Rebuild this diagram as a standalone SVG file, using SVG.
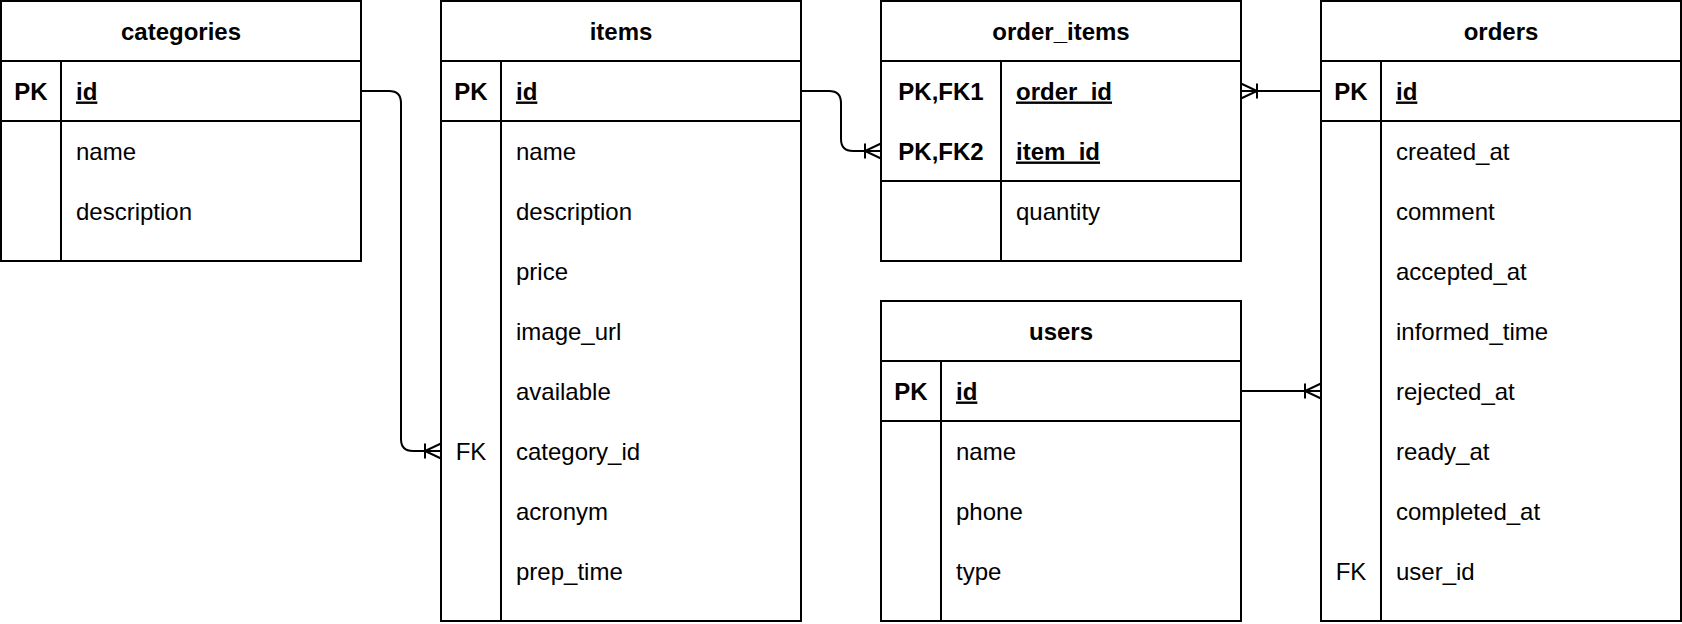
<svg xmlns="http://www.w3.org/2000/svg" width="1682" height="624" viewBox="0 0 1682 624">
<style>
text{font-family:"Liberation Sans",Arial,sans-serif;font-size:24px;fill:#000}
.h{font-weight:bold;text-anchor:middle}
.k{font-weight:bold;text-anchor:middle}
.f{text-anchor:middle}
.u{font-weight:bold;text-decoration:underline}
.box{fill:#fff;stroke:#000;stroke-width:2}
.ln{fill:none;stroke:#000;stroke-width:2}
.conn{fill:none;stroke:#000;stroke-width:2}
</style>
<defs>
<marker id="crow" markerUnits="userSpaceOnUse" viewBox="-20 -10 22 20" markerWidth="22" markerHeight="20" refX="0" refY="0" orient="auto" overflow="visible">
<path d="M0,-7.5 L-16,0 L0,7.5 M-16,-7.5 V7.5" fill="none" stroke="#000" stroke-width="2"/>
</marker>
</defs>
<rect x="0" y="0" width="1682" height="624" fill="#fff"/>

<g id="categories">
<rect class="box" x="1" y="1" width="360" height="260"/>
<path class="ln" d="M1,61 H361 M1,121 H361 M61,61 V261"/>
<text class="h" x="181" y="39.5">categories</text>
<text class="k" x="31" y="99.5">PK</text>
<text class="u" x="76" y="99.5">id</text>
<text x="76" y="159.5">name</text>
<text x="76" y="219.5">description</text>
</g>

<g id="items">
<rect class="box" x="441" y="1" width="360" height="620"/>
<path class="ln" d="M441,61 H801 M441,121 H801 M501,61 V621"/>
<text class="h" x="621" y="39.5">items</text>
<text class="k" x="471" y="99.5">PK</text>
<text class="u" x="516" y="99.5">id</text>
<text x="516" y="159.5">name</text>
<text x="516" y="219.5">description</text>
<text x="516" y="279.5">price</text>
<text x="516" y="339.5">image_url</text>
<text x="516" y="399.5">available</text>
<text class="f" x="471" y="459.5">FK</text>
<text x="516" y="459.5">category_id</text>
<text x="516" y="519.5">acronym</text>
<text x="516" y="579.5">prep_time</text>
</g>

<g id="order_items">
<rect class="box" x="881" y="1" width="360" height="260"/>
<path class="ln" d="M881,61 H1241 M881,181 H1241 M1001,61 V261"/>
<text class="h" x="1061" y="39.5">order_items</text>
<text class="k" x="941" y="99.5">PK,FK1</text>
<text class="u" x="1016" y="99.5">order_id</text>
<text class="k" x="941" y="159.5">PK,FK2</text>
<text class="u" x="1016" y="159.5">item_id</text>
<text x="1016" y="219.5">quantity</text>
</g>

<g id="users">
<rect class="box" x="881" y="301" width="360" height="320"/>
<path class="ln" d="M881,361 H1241 M881,421 H1241 M941,361 V621"/>
<text class="h" x="1061" y="339.5">users</text>
<text class="k" x="911" y="399.5">PK</text>
<text class="u" x="956" y="399.5">id</text>
<text x="956" y="459.5">name</text>
<text x="956" y="519.5">phone</text>
<text x="956" y="579.5">type</text>
</g>

<g id="orders">
<rect class="box" x="1321" y="1" width="360" height="620"/>
<path class="ln" d="M1321,61 H1681 M1321,121 H1681 M1381,61 V621"/>
<text class="h" x="1501" y="39.5">orders</text>
<text class="k" x="1351" y="99.5">PK</text>
<text class="u" x="1396" y="99.5">id</text>
<text x="1396" y="159.5">created_at</text>
<text x="1396" y="219.5">comment</text>
<text x="1396" y="279.5">accepted_at</text>
<text x="1396" y="339.5">informed_time</text>
<text x="1396" y="399.5">rejected_at</text>
<text x="1396" y="459.5">ready_at</text>
<text x="1396" y="519.5">completed_at</text>
<text class="f" x="1351" y="579.5">FK</text>
<text x="1396" y="579.5">user_id</text>
</g>

<g id="connectors">
<path class="conn" d="M361,91 H389 Q401,91 401,103 V439 Q401,451 413,451 H441" marker-end="url(#crow)"/>
<path class="conn" d="M801,91 H829 Q841,91 841,103 V139 Q841,151 853,151 H881" marker-end="url(#crow)"/>
<path class="conn" d="M1321,91 H1241" marker-end="url(#crow)"/>
<path class="conn" d="M1241,391 H1321" marker-end="url(#crow)"/>
</g>
</svg>
